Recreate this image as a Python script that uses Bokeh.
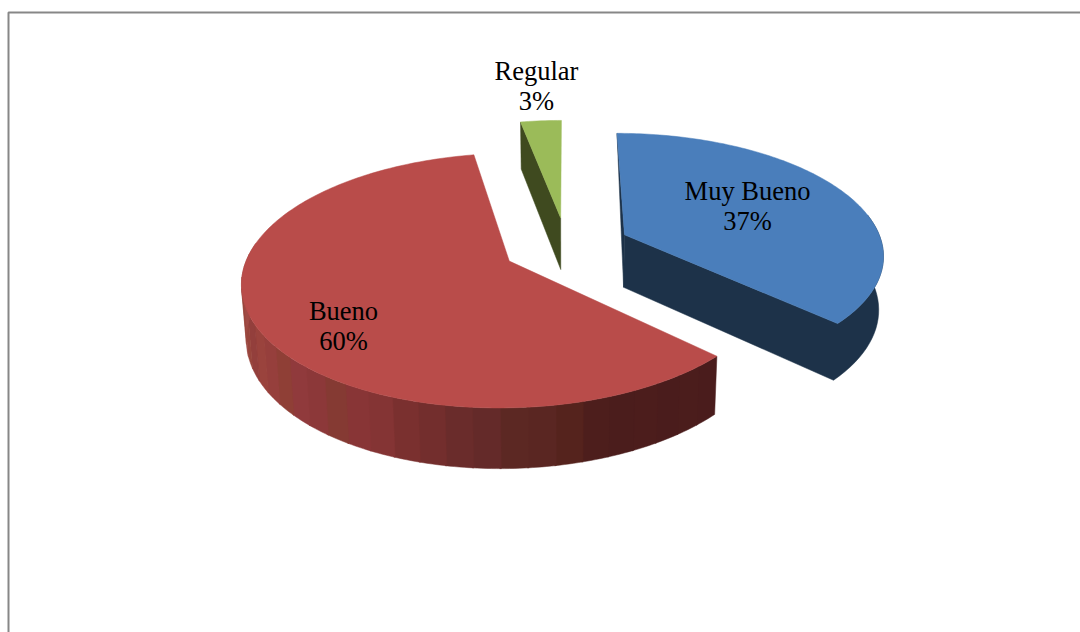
import math

from bokeh.core.properties import value
from bokeh.embed import file_html
from bokeh.models import ColumnDataSource, Range1d
from bokeh.plotting import figure
from bokeh.resources import INLINE

# Survey shares, in the order they run clockwise from twelve o'clock
categories = ["Muy Bueno", "Bueno", "Regular"]
percents = [37, 60, 3]

# Colours of each slice: top face, cut face
top_colors = ["#4A7EBB", "#B94C4A", "#9BBB59"]
cut_colors = ["#1D3249", "#4A1C1C", "#3F4A1F"]

# Banded shading of the red outer wall, running from the right end to the left
bueno_wall = [
    "#4A1C1C", "#4B1D1C", "#4A1C1C", "#4C1D1C", "#4B1D1C", "#4D1E1C",
    "#55231D", "#5A2622", "#5C2823", "#642A29", "#6A2C2B", "#732E2D",
    "#7A302F", "#843434", "#883536", "#853A33", "#8C3839", "#903A3C",
    "#8F3F36", "#963F3C", "#9A433D", "#933F3C", "#98453C", "#9C4741",
    "#98463C", "#A04A45", "#A04A45", "#A44D48",
]

# Label anchors: name line and share line share the same x
label_x = [747, 343, 536]
label_name_y = [190, 310, 70]
label_pct_y = [220, 340, 100]

# Projection of the tilted pie onto the page
CX, CY = 566.0, 246.0
RX, RY = 258.5, 120.0
PERSPECTIVE = 0.15
EXPLODE = 0.248
FLOOR_SHRINK = 0.985


def project(u, v):
    """Top-plane point (u, v) in pie radii to page x, y and its depth scale."""
    s = 1.0 / (1.0 + PERSPECTIVE * v)
    return CX + RX * u * s, CY - RY * v * s, s


def lower(u, v):
    """Same plane point on the underside of the extruded pie."""
    x, y, s = project(u, v)
    return CX + (x - CX) * FLOOR_SHRINK, y + 15.0 + 38.0 * s


def upper(u, v):
    return project(u, v)[:2]


def rim(apex, theta):
    t = math.radians(theta)
    return apex[0] + math.sin(t), apex[1] + math.cos(t)


def arc(a0, a1, n):
    return [a0 + (a1 - a0) * i / n for i in range(n + 1)]


p = figure(
    width=1080, height=632, x_range=Range1d(0, 1080), y_range=Range1d(632, 0),
    toolbar_location=None, output_backend="svg", min_border=0,
    background_fill_color="white", border_fill_color="white",
)
p.axis.visible = False
p.grid.visible = False
p.outline_line_color = None

# Chart-area frame, open towards the page edges
p.line([8, 8, 1080], [632, 12, 12], line_color="#878787", line_width=2)

# Angular extent of every slice
spans = []
start = 0.0
for pct in percents:
    spans.append((start, start + pct * 3.6))
    start += pct * 3.6

xs, ys, colors = [], [], []


def add(pts, color):
    xs.append([q[0] for q in pts])
    ys.append([q[1] for q in pts])
    colors.append(color)


for i, (a0, a1) in enumerate(spans):
    mid = math.radians((a0 + a1) / 2)
    apex = (EXPLODE * math.sin(mid), EXPLODE * math.cos(mid))
    first, last = rim(apex, a0), rim(apex, a1)

    if categories[i] == "Bueno":
        # Outer wall as shaded bands; the slight overlap hides the seams
        band = (278.0 - a0) / len(bueno_wall)
        for j, c in enumerate(bueno_wall):
            angles = arc(a0 + j * band, a0 + (j + 1) * band + 0.3, 6)
            add([upper(*rim(apex, a)) for a in angles]
                + [lower(*rim(apex, a)) for a in reversed(angles)], c)
    elif categories[i] == "Muy Bueno":
        # Sliver of the far cut face along the left edge
        add([upper(*first), lower(*apex), upper(*apex)], cut_colors[i])
        # Near cut face and outer wall share one dark outline
        angles = arc(80.0, a1, 24)
        add([upper(*apex), lower(*apex)]
            + [lower(*rim(apex, a)) for a in reversed(angles)]
            + [upper(*rim(apex, a)) for a in angles], cut_colors[i])
    else:
        add([upper(*apex), upper(*first), lower(*first), lower(*apex)], cut_colors[i])

    # Top surface
    angles = arc(a0, a1, max(8, int(a1 - a0)))
    add([upper(*apex)] + [upper(*rim(apex, a)) for a in angles], top_colors[i])

p.patches("xs", "ys", source=ColumnDataSource(dict(xs=xs, ys=ys, color=colors)),
          fill_color="color", line_color="color", line_width=0.5)

# Data labels: category name above its share
names = ColumnDataSource(dict(
    x=label_x * 2,
    y=label_name_y + label_pct_y,
    text=categories + [f"{v}%" for v in percents],
))
p.text("x", "y", text="text", source=names, text_align="center",
       text_baseline="middle", text_color="#000000",
       text_font=value("Liberation Serif"), text_font_size="26.5px")

open("out.html", "w").write(file_html(p, INLINE))
